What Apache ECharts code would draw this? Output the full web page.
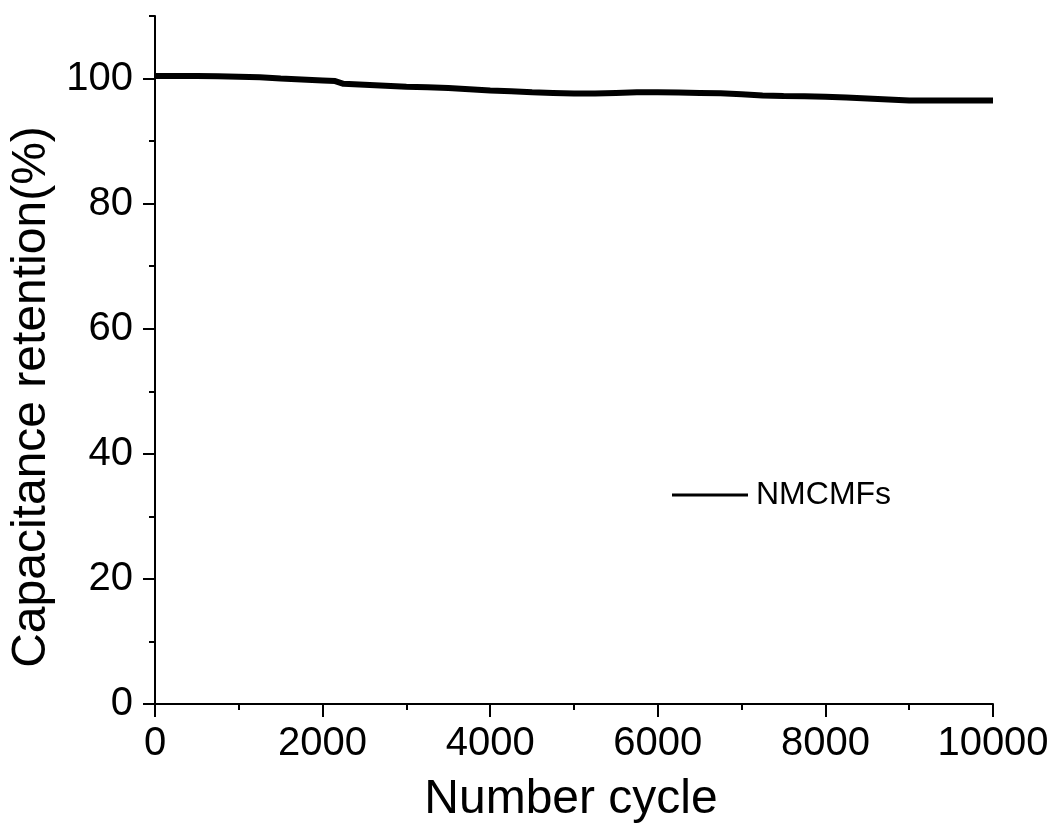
<!DOCTYPE html>
<html>
<head>
<meta charset="utf-8">
<script src="https://cdn.jsdelivr.net/npm/echarts@6/dist/echarts.min.js"></script>
<style>
html, body { margin: 0; padding: 0; background: #fff; }
#chart { width: 1056px; height: 825px; }
</style>
</head>
<body>
<div id="chart"></div>
<script>
var cycles = [0, 250, 500, 750, 1000, 1250, 1500, 1750, 2000, 2150, 2250, 2500, 2750, 3000, 3250, 3500, 3750, 4000, 4250, 4500, 4750, 5000, 5250, 5500, 5750, 6000, 6250, 6500, 6750, 7000, 7250, 7500, 7750, 8000, 8250, 8500, 8750, 9000, 9250, 9500, 9750, 10000];
var retention = [100.4, 100.4, 100.4, 100.35, 100.3, 100.2, 100.0, 99.85, 99.7, 99.6, 99.15, 99.0, 98.85, 98.7, 98.6, 98.5, 98.3, 98.1, 97.95, 97.8, 97.7, 97.6, 97.6, 97.7, 97.8, 97.8, 97.75, 97.7, 97.65, 97.5, 97.3, 97.2, 97.15, 97.1, 96.95, 96.8, 96.65, 96.5, 96.5, 96.5, 96.5, 96.5];
var yMajor = [0, 20, 40, 60, 80, 100];
var seriesName = 'NMCMFs';

var points = [];
for (var i = 0; i < cycles.length; i++) {
    points.push([cycles[i], retention[i]]);
}

var chart = echarts.init(document.getElementById('chart'));
var font = 'Liberation Sans, Arial, sans-serif';
var option = {
    animation: false,
    backgroundColor: '#fff',
    grid: { left: 155, right: 63, top: 16, bottom: 121, containLabel: false, outerBoundsMode: 'none' },
    legend: {
        left: 667,
        top: 474,
        icon: 'rect',
        itemWidth: 76,
        itemHeight: 3,
        textStyle: { fontFamily: font, fontSize: 32, color: '#000', padding: [0, 0, 0, 3] },
        data: [seriesName]
    },
    xAxis: {
        type: 'value',
        min: 0,
        max: 10000,
        interval: 2000,
        name: 'Number cycle',
        nameLocation: 'middle',
        nameGap: 72,
        nameTextStyle: { fontFamily: font, fontSize: 48, color: '#000', padding: [0, 6, 0, 0] },
        axisLine: { onZero: false, lineStyle: { color: '#000', width: 2 } },
        axisTick: { show: true, length: 13, lineStyle: { color: '#000', width: 2 } },
        minorTick: { show: true, splitNumber: 2, length: 6, lineStyle: { color: '#000', width: 2 } },
        axisLabel: { fontFamily: font, fontSize: 40, color: '#000', margin: 20, formatter: function (v) { return String(v); } },
        splitLine: { show: false }
    },
    yAxis: [{
        type: 'value',
        min: 0,
        max: 110,
        interval: 10,
        name: 'Capacitance retention(%)',
        nameLocation: 'middle',
        nameGap: 92,
        nameTextStyle: { fontFamily: font, fontSize: 48, color: '#000', padding: [0, 74, 0, 0] },
        axisLine: { onZero: false, lineStyle: { color: '#000', width: 2 } },
        axisTick: { show: true, length: 12, customValues: yMajor, lineStyle: { color: '#000', width: 2 } },
        axisLabel: { fontFamily: font, fontSize: 40, color: '#000', margin: 22, customValues: yMajor },
        splitLine: { show: false }
    }, {
        type: 'value',
        min: 0,
        max: 110,
        interval: 10,
        position: 'left',
        axisLine: { show: false },
        axisTick: { show: true, length: 6, lineStyle: { color: '#000', width: 2 } },
        axisLabel: { show: false },
        splitLine: { show: false }
    }],
    series: [{
        name: seriesName,
        type: 'line',
        data: points,
        showSymbol: false,
        color: '#000',
        lineStyle: { color: '#000', width: 6 }
    }]
};
chart.setOption(option);
</script>
</body>
</html>
